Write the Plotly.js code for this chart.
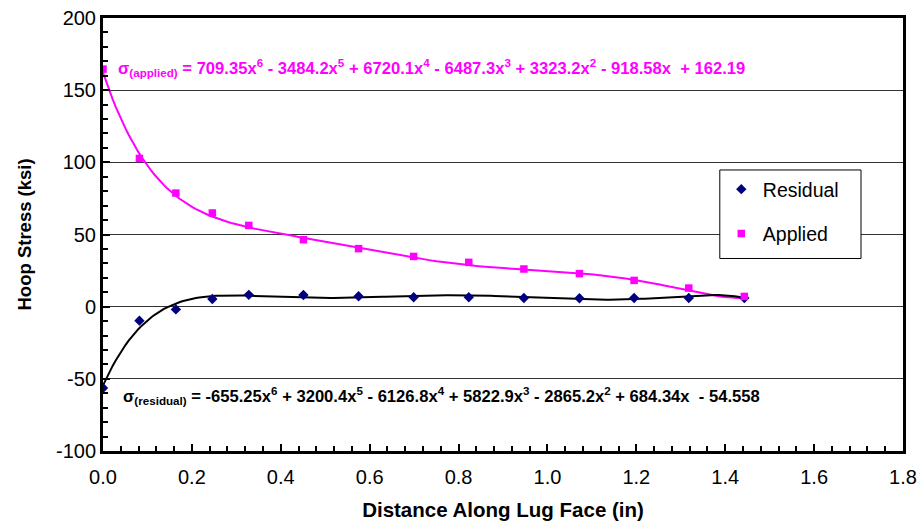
<!DOCTYPE html>
<html>
<head>
<meta charset="utf-8">
<script src="https://cdn.plot.ly/plotly-3.0.1.min.js"></script>
<style>html,body{margin:0;padding:0;background:#fff;}#chart{width:917px;height:521px;}</style>
</head>
<body>
<div id="chart"></div>
<script>
// Data
var distance = [0, 0.082, 0.164, 0.246, 0.328, 0.451, 0.575, 0.699, 0.823, 0.947, 1.072, 1.195, 1.318, 1.443];
var residual = [-56.3, -9.7, -1.9, 5.3, 8.2, 8.1, 7.2, 6.5, 6.5, 6.0, 5.8, 6.0, 6.0, 6.0];
var applied  = [164.6, 102.7, 78.7, 64.9, 56.3, 46.4, 40.2, 34.8, 30.7, 26.1, 22.9, 18.2, 12.9, 7.1];
// Trendline coefficients as printed on the chart (highest power first: x^6 ... x^0)
var coefApplied  = [709.35, -3484.2, 6720.1, -6487.3, 3323.2, -918.58, 162.19];
var coefResidual = [-655.25, 3200.4, -6126.8, 5822.9, -2865.2, 684.34, -54.558];
var xTickVals = [0, 0.2, 0.4, 0.6, 0.8, 1.0, 1.2, 1.4, 1.6, 1.8];
var xTickText = ['0.0', '0.2', '0.4', '0.6', '0.8', '1.0', '1.2', '1.4', '1.6', '1.8'];
var yTickVals = [-100, -50, 0, 50, 100, 150, 200];
var yTickText = ['-100', '-50', '0', '50', '100', '150', '200'];

function polyval(c, x) { var v = 0; for (var i = 0; i < c.length; i++) v = v * x + c[i]; return v; }
var xs = [];
var xEnd = distance[distance.length - 1];
for (var i = 0; i <= 200; i++) xs.push(xEnd * i / 200);
var trendA = xs.map(function (x) { return polyval(coefApplied, x); });
var trendR = xs.map(function (x) { return polyval(coefResidual, x); });

var traces = [
  {x: xs, y: trendA, mode: 'lines', line: {color: '#FF00FF', width: 2}, showlegend: false, hoverinfo: 'skip'},
  {x: xs, y: trendR, mode: 'lines', line: {color: '#000000', width: 2}, showlegend: false, hoverinfo: 'skip'},
  {x: distance, y: residual, name: 'Residual', mode: 'markers', legendgroup: 'r',
   marker: {symbol: 'diamond', color: '#000080', size: 8}},
  {x: distance, y: applied, name: 'Applied', mode: 'markers', legendgroup: 'a',
   marker: {symbol: 'square', color: '#FF00FF', size: 7.5}}
];

var font = 'Liberation Sans, Arial, sans-serif';
var layout = {
  width: 917, height: 521,
  margin: {l: 103, r: 14, t: 18, b: 70},
  paper_bgcolor: '#fff', plot_bgcolor: '#fff',
  font: {family: font, color: '#000'},
  showlegend: true,
  legend: {
    x: 0.771, y: 0.649, xanchor: 'left', yanchor: 'top',
    bgcolor: 'rgba(0,0,0,0)', borderwidth: 0,
    font: {family: font, size: 19.5, color: '#000'},
    traceorder: 'grouped', tracegroupgap: 16, itemwidth: 33
  },
  shapes: [
    {type: 'rect', xref: 'paper', yref: 'paper', x0: 0.771, x1: 0.9475, y0: 0.4446, y1: 0.649,
     fillcolor: '#fff', line: {color: '#000', width: 1}, layer: 'above'}
  ],
  xaxis: {
    range: [0, 1.8], tickvals: xTickVals, ticktext: xTickText,
    ticks: 'inside', ticklen: 7, tickwidth: 2, tickcolor: '#000', ticklabelstandoff: 6,
    minor: {dtick: 0.04, tick0: 0, ticks: 'inside', ticklen: 5, tickwidth: 2, tickcolor: '#000', showgrid: false},
    showline: true, linecolor: '#000', linewidth: 3, mirror: true,
    showgrid: false, zeroline: false,
    tickfont: {family: font, size: 20, color: '#000'},
    title: {text: '<b>Distance Along Lug Face (in)</b>', font: {family: font, size: 20.5, color: '#000'}, standoff: 16}
  },
  yaxis: {
    range: [-100, 200], tickvals: yTickVals, ticktext: yTickText,
    ticks: 'inside', ticklen: 7, tickwidth: 2, tickcolor: '#000', ticklabelstandoff: 14.5,
    minor: {dtick: 10, tick0: 0, ticks: 'inside', ticklen: 5, tickwidth: 2, tickcolor: '#000', showgrid: false},
    showline: true, linecolor: '#000', linewidth: 3, mirror: true,
    showgrid: true, gridcolor: '#333', gridwidth: 1, zeroline: false,
    tickfont: {family: font, size: 20, color: '#000'},
    title: {text: ''}
  },
  annotations: [
    {xref: 'paper', yref: 'paper', x: -0.09875, y: 0.5, xanchor: 'center', yanchor: 'middle', showarrow: false,
     textangle: -90, font: {family: font, size: 18.5, color: '#000'}, text: '<b>Hoop Stress (ksi)</b>'},
    {xref: 'paper', yref: 'y', x: 0.0165, y: 166, xanchor: 'left', yanchor: 'middle', showarrow: false,
     font: {family: font, size: 16.6, color: '#FF00FF'},
     text: '<b>σ<sub>(applied)</sub> = 709.35x<sup>6</sup> - 3484.2x<sup>5</sup> + 6720.1x<sup>4</sup> - 6487.3x<sup>3</sup> + 3323.2x<sup>2</sup> - 918.58x  + 162.19</b>'},
    {xref: 'paper', yref: 'y', x: 0.023, y: -61.6, xanchor: 'left', yanchor: 'middle', showarrow: false,
     font: {family: font, size: 16.6, color: '#000'},
     text: '<b>σ<sub>(residual)</sub> = -655.25x<sup>6</sup> + 3200.4x<sup>5</sup> - 6126.8x<sup>4</sup> + 5822.9x<sup>3</sup> - 2865.2x<sup>2</sup> + 684.34x  - 54.558</b>'}
  ]
};
Plotly.newPlot('chart', traces, layout, {staticPlot: true, displayModeBar: false});
</script>
</body>
</html>
